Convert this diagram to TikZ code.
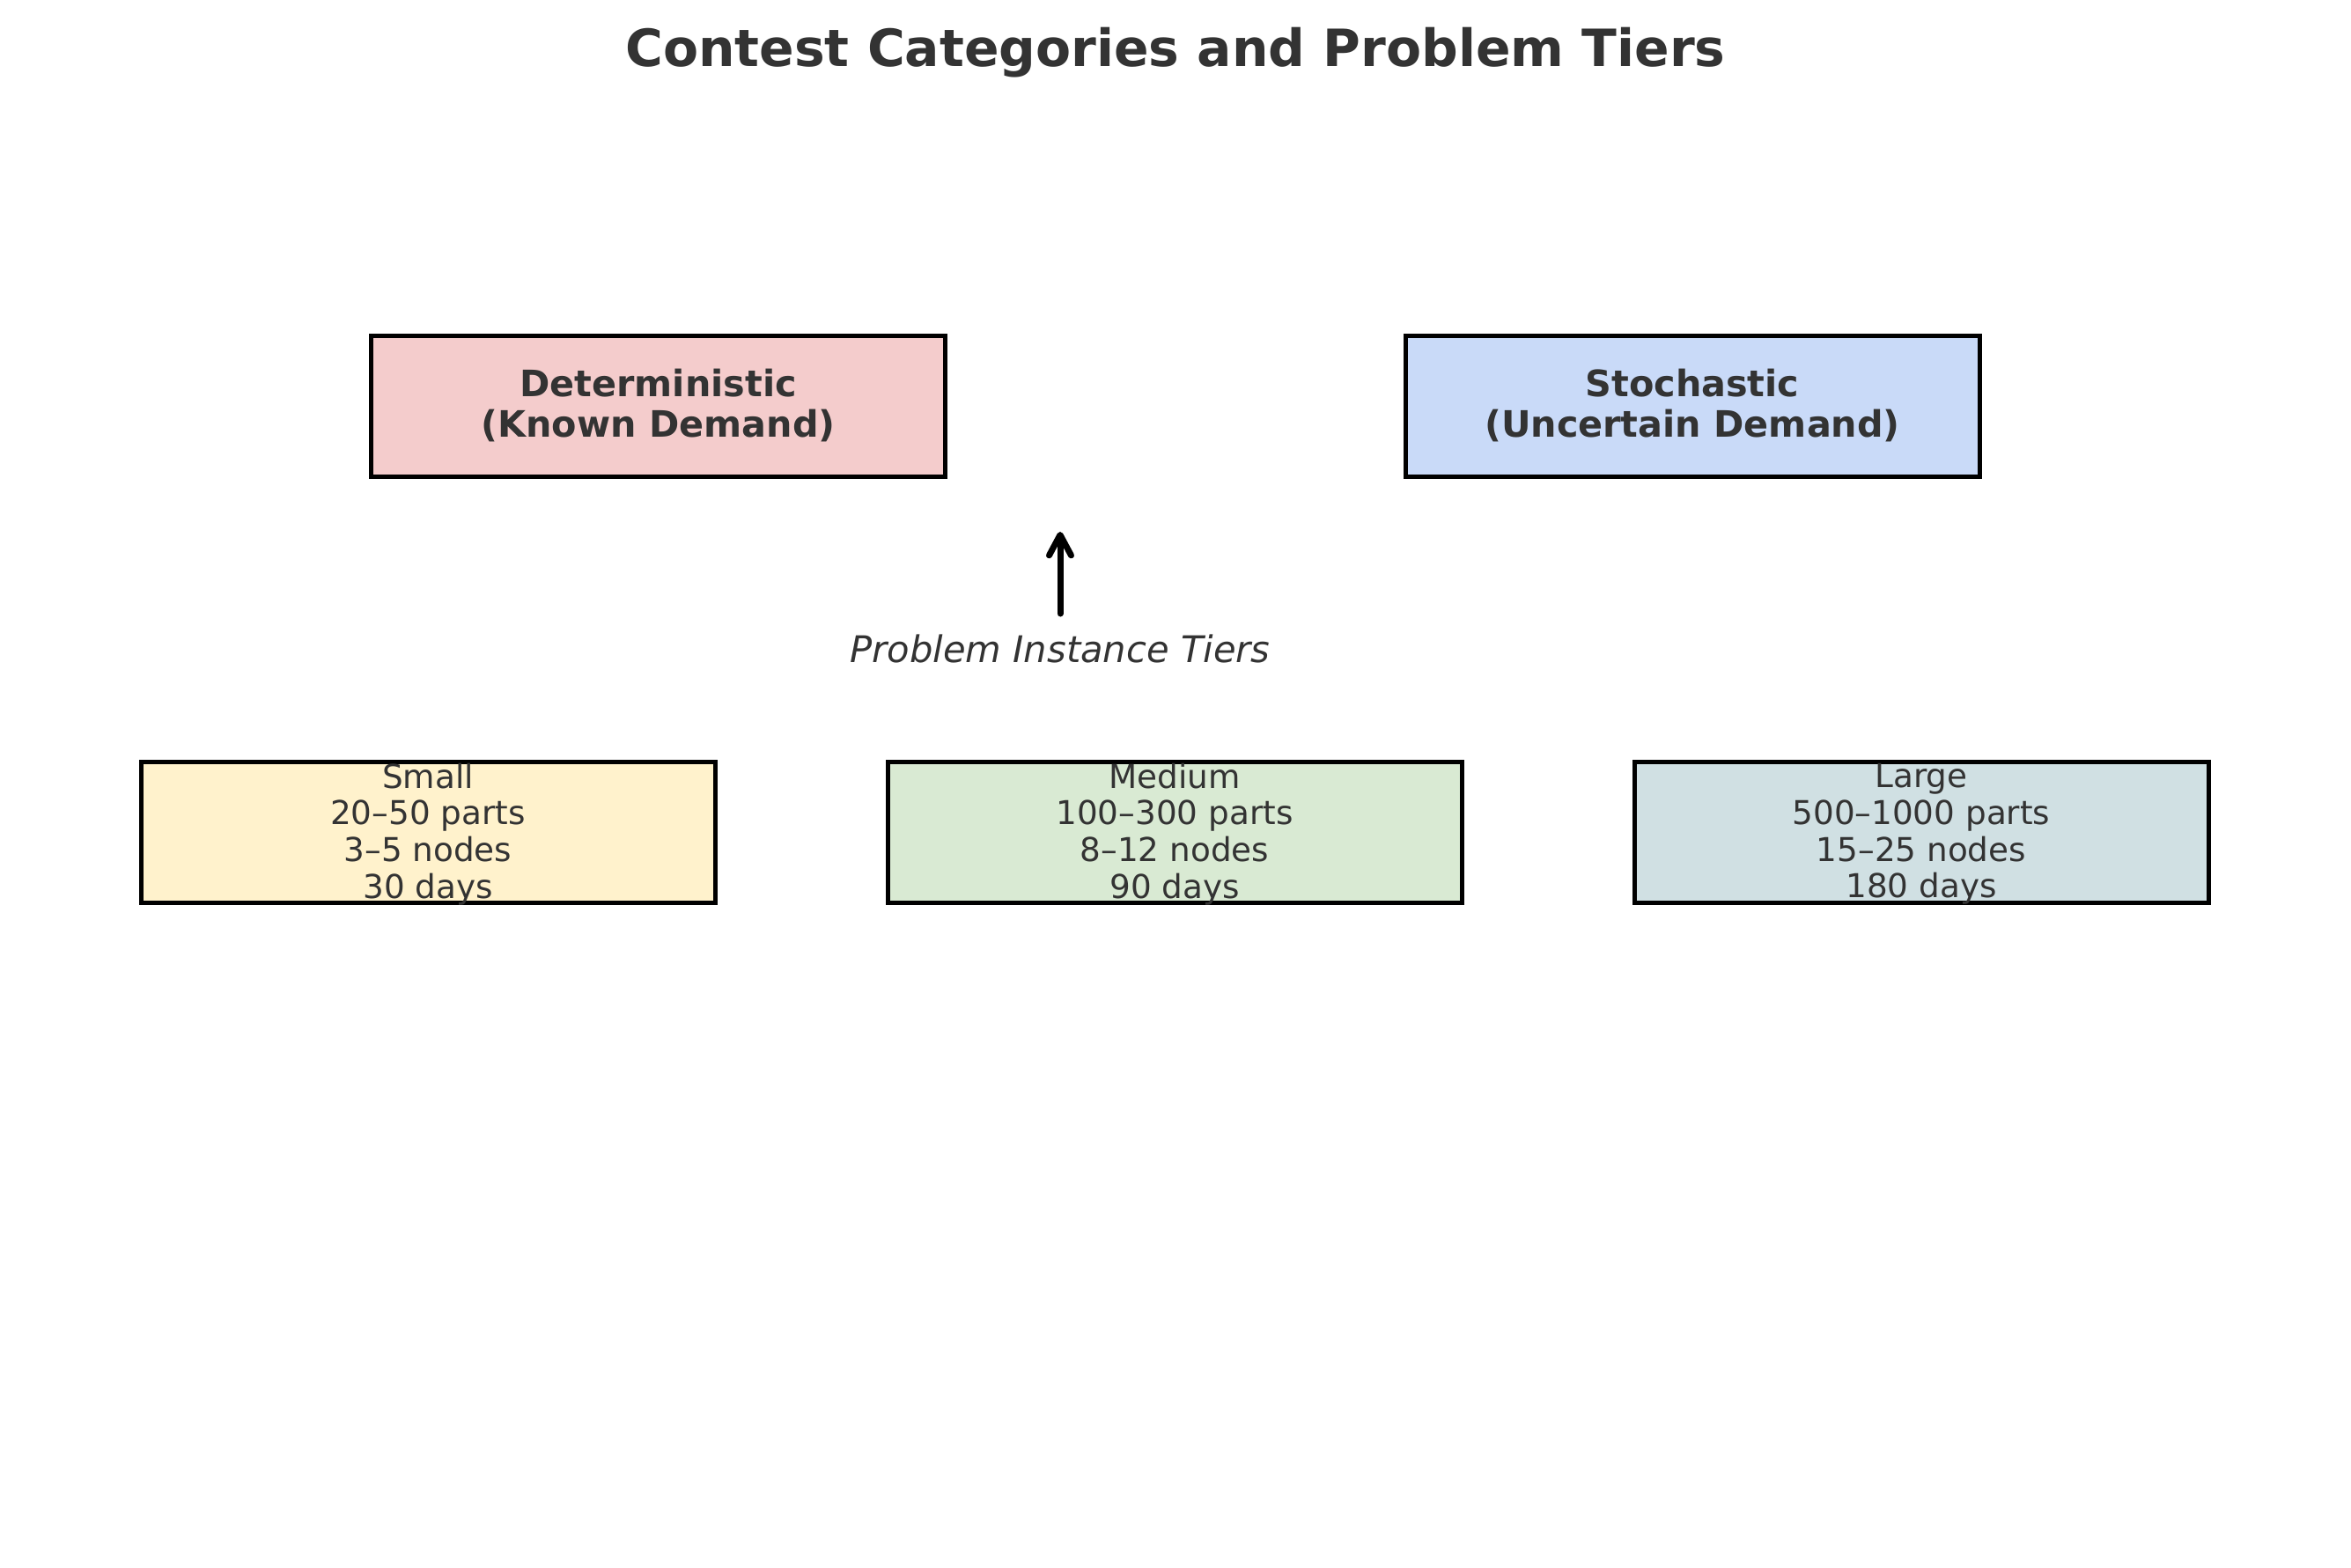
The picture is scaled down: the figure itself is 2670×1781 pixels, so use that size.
\documentclass[tikz,border=0pt]{standalone}
\usepackage{fontspec}
\setmainfont{DejaVu Sans}
\usetikzlibrary{arrows.meta}
\definecolor{txt}{HTML}{333333}
\definecolor{cpink}{HTML}{F4CCCC}
\definecolor{cblue}{HTML}{C9DAF8}
\definecolor{cyellow}{HTML}{FFF2CC}
\definecolor{cgreen}{HTML}{D9EAD3}
\definecolor{cteal}{HTML}{D0E0E3}
\tikzset{
  catbox/.style={draw=black, line width=1.5pt, minimum width=195.6pt, minimum height=48pt, inner sep=0pt, align=center, text=txt,
    font=\fontsize{12.4pt}{13.8pt}\selectfont\bfseries},
  tierbox/.style={draw=black, line width=1.5pt, minimum width=195.6pt, minimum height=48pt, inner sep=0pt},
  tiertext/.style={inner sep=0pt, align=center, text=txt, font=\fontsize{11.2pt}{12.5pt}\selectfont},
  titletext/.style={anchor=base, inner sep=0pt, text=txt, font=\fontsize{17.5pt}{21pt}\selectfont\bfseries},
  labeltext/.style={anchor=base, inner sep=0pt, text=txt, font=\fontsize{12.5pt}{15pt}\selectfont\itshape},
  uparrow/.style={line width=2.1pt, line cap=round, -{Straight Barb[length=7pt, width=7.5pt, line cap=round, line join=round]}}
}
\begin{document}
\begin{tikzpicture}[x=0.3pt, y=-0.3pt]
\useasboundingbox (0,0) rectangle (2670,1781);
\node[titletext] (title) at (1335,75) {Contest Categories and Problem Tiers};
\node[catbox, fill=cpink] (det) at (747.5,461) {Deterministic\\(Known Demand)};
\node[catbox, fill=cblue] (sto) at (1922,461) {Stochastic\\(Uncertain Demand)};
\coordinate (arrS) at (1204,697);
\coordinate (arrE) at (1204,604);
\draw[uparrow] (arrS) -- (arrE);
\node[labeltext] (tiers) at (1204,752) {Problem Instance Tiers};
\node[tierbox, fill=cyellow] (small) at (486,945) {};
\node[tierbox, fill=cgreen] (medium) at (1334,945) {};
\node[tierbox, fill=cteal] (large) at (2182,945) {};
\node[tiertext] (smallT) at ([yshift=-0.75pt]small.center) {Small\\20–50 parts\\3–5 nodes\\30 days};
\node[tiertext] (mediumT) at ([yshift=-0.75pt]medium.center) {Medium\\100–300 parts\\8–12 nodes\\90 days};
\node[tiertext] (largeT) at ([yshift=-0.75pt]large.center) {Large\\500–1000 parts\\15–25 nodes\\180 days};
\end{tikzpicture}
\end{document}
